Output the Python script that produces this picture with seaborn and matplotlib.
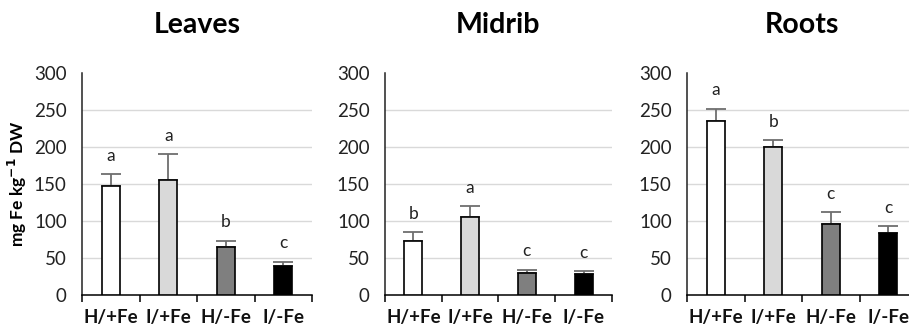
import matplotlib
matplotlib.use("Agg")
import matplotlib.pyplot as plt
import seaborn as sns
import pandas as pd
import numpy as np

# ---- data ----
categories = ["H/+Fe", "I/+Fe", "H/-Fe", "I/-Fe"]
panels = ["Leaves", "Midrib", "Roots"]
leaves_mean = [147, 155, 65, 39]
leaves_err = [16, 35, 8, 6]
leaves_letters = ["a", "a", "b", "c"]
midrib_mean = [73, 106, 30, 28]
midrib_err = [12, 14, 4, 4]
midrib_letters = ["b", "a", "c", "c"]
roots_mean = [235, 200, 96, 84]
roots_err = [17, 9, 16, 9]
roots_letters = ["a", "b", "c", "c"]
yticks = [0, 50, 100, 150, 200, 250, 300]
ylabel = "mg Fe kg$^{\\mathbf{-1}}$ DW"

bar_colors = ["#ffffff", "#d9d9d9", "#7f7f7f", "#000000"]

sns.set_theme(style="white")
plt.rcParams["font.family"] = ["Lato", "DejaVu Sans"]

fig = plt.figure(figsize=(9.09, 3.32), dpi=100)
W, H = 909, 332
bottom = 1 - 295 / H
height = (295 - 73) / H
lefts = [82, 385, 687]
widths = [230, 227, 230]

data = [
    (leaves_mean, leaves_err, leaves_letters),
    (midrib_mean, midrib_err, midrib_letters),
    (roots_mean, roots_err, roots_letters),
]

for i, (name, (means, errs, letters)) in enumerate(zip(panels, data)):
    ax = fig.add_axes([lefts[i] / W, bottom, widths[i] / W, height])
    df = pd.DataFrame({"cat": categories, "val": means})
    sns.barplot(data=df, x="cat", y="val", hue="cat", palette=bar_colors,
                order=categories, hue_order=categories, legend=False,
                width=0.32, edgecolor="black", linewidth=1.2,
                errorbar=None, ax=ax, zorder=3)
    x = np.arange(len(categories))
    ax.errorbar(x, means, yerr=[np.zeros(len(errs)), errs], fmt="none",
                ecolor="#6e6e6e", elinewidth=1.3, capsize=7, capthick=1.3,
                zorder=2)
    for xi, m, e, l in zip(x, means, errs, letters):
        ax.text(xi, m + e + 25, l, ha="center", va="center", fontsize=12.5,
                color="#222222")
    ax.set_xlim(-0.5, 3.5)
    ax.set_ylim(0, 300)
    ax.set_yticks(yticks)
    ax.set_yticklabels([str(t) for t in yticks], fontsize=13.5, color="#222222")
    ax.set_xticks(x)
    ax.set_xticklabels(categories, fontsize=13.5, fontweight="bold", color="#111111")
    ax.set_xticks(np.arange(-0.5, 4, 1), minor=True)
    ax.tick_params(axis="x", which="major", length=0, pad=10)
    ax.tick_params(axis="x", which="minor", length=5, width=1.1, color="black",
                   direction="out", bottom=True)
    ax.tick_params(axis="y", length=0, pad=11)
    ax.set_xlabel("")
    ax.set_ylabel("")
    ax.yaxis.grid(True, color="#d9d9d9", linewidth=1.0, zorder=0)
    ax.set_axisbelow(True)
    gl = ax.yaxis.get_gridlines()
    gl[-1].set_visible(False)
    gl[0].set_visible(False)
    for s in ["top", "right"]:
        ax.spines[s].set_visible(False)
    ax.spines["left"].set_color("#222222")
    ax.spines["left"].set_linewidth(1.1)
    ax.spines["bottom"].set_color("black")
    ax.spines["bottom"].set_linewidth(1.1)
    ax.set_title(name, fontsize=20.5, fontweight="bold", pad=29, color="black")

fig.text(17 / W, 1 - 184 / H, ylabel, rotation=90, ha="center", va="center",
         fontsize=12.5, fontweight="bold", color="black")

fig.savefig("out.png", dpi=100, facecolor="white")
